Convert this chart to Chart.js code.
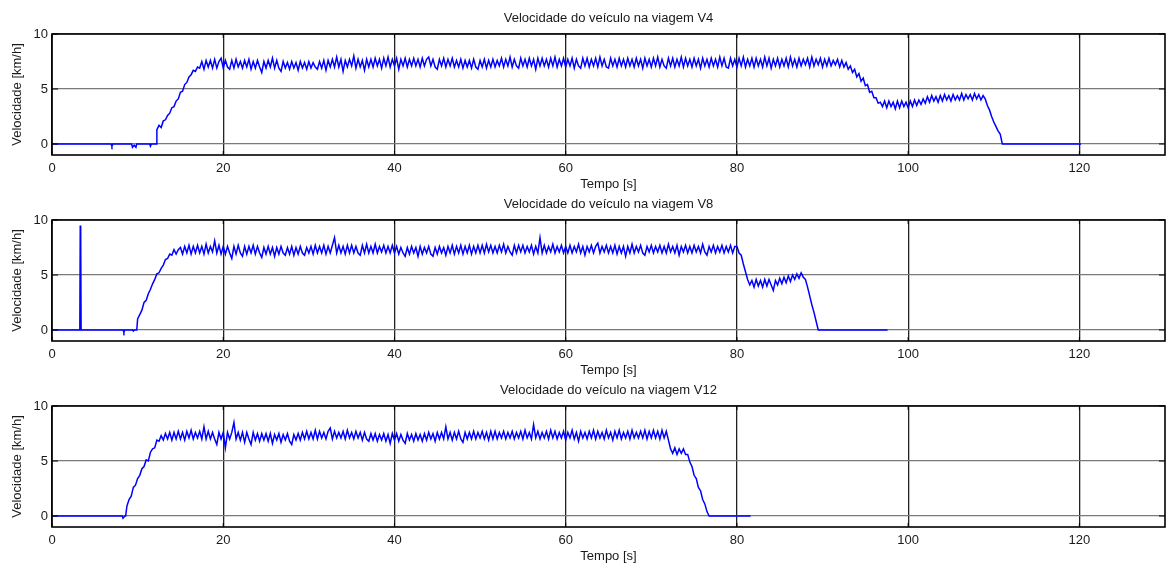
<!DOCTYPE html>
<html lang="pt">
<head>
<meta charset="utf-8">
<title>Velocidade do veículo</title>
<script src="https://cdn.jsdelivr.net/npm/chart.js@4.4.1/dist/chart.umd.min.js"></script>
<style>
  html, body { margin: 0; padding: 0; background: #fff; }
  #painel { position: relative; width: 1167px; height: 568px; overflow: hidden; }
  .grafico { position: absolute; left: 0; width: 1167px; height: 196px; }
</style>
</head>
<body>
<div id="painel">
  <div class="grafico" style="top:0px"><canvas id="graficoV4"></canvas></div>
  <div class="grafico" style="top:186px"><canvas id="graficoV8"></canvas></div>
  <div class="grafico" style="top:372px"><canvas id="graficoV12"></canvas></div>
</div>
<script>
// eixos
const temposTicks = [0, 20, 40, 60, 80, 100, 120];
const velTicks = [0, 5, 10];
const passo = 0.25; // intervalo de amostragem [s]

// viagem V4: trechos parados como pares [t, v], trecho em movimento amostrado a cada passo
const v4Parado = [[0, 0], [6.9, 0], [7.0, -0.2], [7.1, 0], [9.3, 0], [9.4, -0.3], [9.6, -0.1], [9.8, -0.3], [9.9, 0], [11.4, 0], [11.5, -0.2], [11.6, 0], [12.2, 0]];
const v4Inicio = 12.25;
const v4Vel = [
  1.3,1.7,1.5,2.1,2.2,2.6,2.8,3.3,3.4,3.9,4.1,4.7,4.8,5.4,5.6,6.1,6.3,6.7,6.6,7.0,
  6.9,7.5,6.8,7.6,7.0,7.6,6.9,7.7,6.9,7.5,7.8,6.9,7.6,7.0,6.8,7.6,6.9,7.7,7.0,7.5,
  6.9,7.6,7.0,7.7,6.8,7.5,6.9,7.6,7.0,6.5,7.5,6.9,7.6,7.0,7.8,6.9,7.6,6.9,6.6,7.5,
  6.9,7.4,6.8,7.5,6.9,7.4,6.7,7.5,6.9,7.4,6.8,7.5,6.9,7.4,7.0,6.8,7.5,6.9,7.6,6.7,
  7.6,7.0,7.7,7.0,7.9,7.0,7.7,6.6,7.6,7.0,7.7,7.1,8.0,6.9,7.7,7.0,7.6,6.7,7.7,7.0,
  7.7,7.0,7.8,7.1,7.7,6.9,7.8,7.1,7.9,7.0,7.7,7.1,7.8,6.8,7.7,7.1,7.8,7.0,7.7,7.1,
  7.8,7.1,7.7,7.0,7.8,7.1,7.7,7.9,7.1,7.7,7.0,6.8,7.7,7.1,7.8,7.0,7.7,7.1,7.8,7.0,
  7.6,7.0,7.7,6.9,7.6,7.0,7.6,6.9,7.7,7.0,6.8,7.6,7.0,7.7,6.9,7.6,7.0,7.7,7.0,7.6,
  7.1,7.8,7.0,7.7,7.1,7.9,7.0,7.7,7.1,6.9,7.8,7.1,7.7,7.0,7.8,7.1,7.7,6.8,7.8,7.1,
  7.8,7.1,7.7,7.0,7.8,7.1,7.9,7.0,7.7,7.1,7.8,7.0,7.7,7.1,7.8,6.9,7.7,7.1,6.9,7.8,
  7.1,7.8,7.0,7.7,7.1,7.8,7.0,7.9,7.1,7.7,7.0,6.9,7.8,7.1,7.7,7.0,7.8,7.1,7.7,7.0,
  7.8,7.1,7.7,7.0,7.8,7.1,7.7,6.9,7.8,7.1,7.7,7.0,7.8,7.1,7.9,7.0,7.7,7.1,6.9,7.8,
  7.1,7.8,7.0,7.7,7.1,7.9,7.0,7.8,7.1,7.7,7.0,7.8,7.1,7.7,6.9,7.8,7.1,7.7,7.0,7.8,
  7.1,7.7,7.0,7.9,7.1,7.8,7.0,6.9,7.8,7.1,7.7,7.0,7.8,7.1,7.9,7.0,7.7,7.1,7.8,7.0,
  7.8,7.1,7.7,7.0,7.9,7.1,7.8,6.9,7.7,7.1,7.8,7.0,7.7,7.1,7.8,7.0,7.9,7.1,7.7,7.0,
  7.8,7.1,7.7,7.2,7.8,7.0,7.9,7.1,7.7,7.2,7.8,7.0,7.7,7.1,7.8,7.1,7.6,7.2,7.7,7.0,
  7.6,7.0,7.4,6.8,7.1,6.5,6.8,6.1,6.4,5.7,6.0,5.3,5.4,4.7,4.8,4.2,4.2,3.7,3.8,3.4,
  3.9,3.3,3.9,3.4,3.8,3.2,3.9,3.3,3.9,3.4,3.8,3.3,3.9,3.4,4.0,3.5,4.0,3.6,4.1,3.7,
  4.3,3.8,4.4,3.9,4.3,3.8,4.4,3.9,4.5,4.0,4.4,3.9,4.5,4.0,4.4,4.0,4.6,4.0,4.5,4.1,
  4.5,4.0,4.6,4.1,4.5,4.0,4.4,4.1,3.5,3.1,2.5,2.0,1.6,1.2,0.9,0.0
];
const v4Final = [[120.2, 0]];

// viagem V8
const v8Parado = [[0, 0], [3.25, 0], [3.3, 9.5], [3.35, 9.2], [3.4, 0], [8.3, 0], [8.4, -0.2], [8.5, 0], [9.4, 0], [9.5, -0.1], [9.6, 0], [9.9, 0]];
const v8Inicio = 10.0;
const v8Vel = [
  1.0,1.4,1.8,2.5,2.7,3.3,3.7,4.2,4.6,5.1,5.2,5.6,5.9,6.4,6.5,6.9,6.8,7.3,6.9,7.3,
  7.5,6.9,7.6,7.0,7.7,6.9,7.6,7.0,7.7,7.0,7.6,6.9,7.8,7.0,7.6,7.1,8.1,7.0,7.7,6.9,
  7.6,6.9,7.6,7.0,6.5,7.6,6.9,7.7,7.0,6.7,7.6,6.9,7.6,7.0,7.7,6.9,7.6,7.0,6.6,7.5,
  6.9,7.6,6.9,7.5,6.7,7.5,6.9,7.6,7.0,6.8,7.5,6.9,7.6,6.8,7.5,6.9,7.6,7.0,6.8,7.5,
  7.0,7.6,6.9,7.7,7.0,7.6,7.0,7.7,6.9,7.6,7.0,7.7,8.4,7.0,7.7,7.0,7.6,6.9,7.7,7.0,
  7.7,7.0,7.6,7.0,6.8,7.7,7.0,7.8,7.0,7.6,7.0,7.8,7.0,7.6,7.1,7.7,7.0,7.6,7.0,7.7,
  7.0,7.6,6.9,7.5,7.0,6.7,7.5,6.9,7.6,7.0,7.5,6.7,7.6,6.9,7.5,7.0,7.6,6.9,6.7,7.5,
  6.9,7.6,7.0,7.5,6.8,7.6,7.0,7.7,6.9,7.6,7.0,7.7,6.9,7.6,7.0,7.7,6.9,7.6,7.0,7.7,
  7.0,7.7,7.0,7.8,7.1,7.7,7.0,7.6,7.0,7.7,7.1,7.8,7.0,7.6,7.1,6.8,7.7,7.0,7.7,7.1,
  7.7,7.0,7.6,7.1,7.7,6.9,7.6,7.0,8.4,7.0,7.7,7.0,7.6,7.1,7.8,7.0,7.6,7.1,7.7,7.0,
  7.6,7.0,7.7,7.0,7.6,7.1,7.8,7.0,7.6,6.8,7.6,7.1,7.7,7.0,7.6,7.9,7.0,7.6,7.1,7.7,
  7.0,7.6,7.0,7.7,6.9,7.6,7.0,7.6,6.7,7.6,7.0,7.8,7.0,7.6,7.1,7.7,7.0,6.8,7.6,7.1,
  7.7,7.0,7.6,7.1,7.7,7.0,7.6,7.0,7.8,7.1,7.6,7.0,7.7,6.8,7.6,7.1,7.7,7.0,7.6,7.0,
  7.7,7.1,7.6,7.0,7.8,7.1,6.8,7.6,7.1,7.7,7.0,7.6,7.1,7.7,7.0,7.6,7.1,7.7,7.0,7.6,
  7.6,7.0,6.8,6.0,5.3,4.6,4.1,4.5,3.9,4.6,4.0,4.5,3.9,4.6,4.0,4.6,4.1,3.6,4.5,4.1,
  4.7,4.2,4.8,4.3,4.9,4.4,5.0,4.6,5.1,4.7,5.2,4.8,4.6,3.9,3.1,2.3,1.6,0.8,0.0
];
const v8Final = [[97.6, 0]];

// viagem V12
const v12Parado = [[0, 0], [8.2, 0], [8.3, -0.2], [8.5, 0], [8.6, 0]];
const v12Inicio = 8.75;
const v12Vel = [
  0.9,1.5,1.8,2.6,2.8,3.4,3.7,4.3,4.5,5.1,5.0,5.8,6.1,6.2,6.9,6.8,7.3,6.9,7.5,7.0,
  7.6,6.9,7.6,7.0,7.7,7.0,7.6,6.9,7.7,7.1,7.8,7.0,7.6,7.1,7.7,7.0,8.1,7.0,7.7,7.0,
  7.6,7.0,6.5,7.6,7.0,7.6,6.2,7.6,7.0,7.6,8.5,7.0,7.6,6.9,7.6,6.7,7.6,7.0,6.5,7.6,
  6.9,7.5,6.8,7.5,6.9,7.5,6.8,7.5,6.6,7.4,6.9,7.5,6.7,7.4,6.9,7.5,6.8,6.5,7.4,6.9,
  7.5,6.9,7.6,7.0,7.7,7.0,7.6,7.0,7.8,7.0,7.7,7.1,7.6,7.0,7.7,8.0,7.0,7.7,7.1,7.6,
  7.1,7.7,7.0,7.8,7.1,7.6,7.0,7.7,7.1,7.6,6.9,7.6,7.0,6.8,7.5,6.9,7.5,6.8,7.4,6.9,
  7.5,6.8,7.4,6.6,7.5,6.9,7.5,6.8,7.4,6.9,6.6,7.5,6.9,7.4,6.8,7.5,6.9,7.4,6.8,7.5,
  6.9,7.6,7.0,7.5,6.8,7.6,7.0,7.6,7.0,8.1,7.0,7.6,6.9,7.6,7.0,7.7,7.0,6.7,7.6,7.0,
  7.6,7.0,7.7,7.0,7.6,7.1,7.7,7.0,7.6,6.9,7.7,7.0,7.7,7.0,7.6,7.1,7.7,7.0,7.6,7.1,
  7.7,7.0,7.6,7.1,7.7,7.0,7.8,7.1,7.6,7.0,8.3,7.1,7.7,7.0,7.6,7.1,7.7,7.0,7.8,7.1,
  7.7,7.0,7.6,7.1,7.7,6.9,7.6,7.1,7.8,7.0,7.6,6.8,7.7,7.1,7.6,7.0,7.7,7.1,7.8,7.0,
  7.7,7.1,7.6,7.0,7.8,7.1,7.6,6.9,7.7,7.1,7.8,7.0,7.6,7.1,7.7,7.0,7.8,7.1,7.6,7.1,
  7.7,7.1,7.8,7.0,7.7,7.1,7.8,7.1,7.7,7.0,7.8,7.1,7.7,6.9,6.1,5.7,6.2,5.6,6.1,5.7,
  6.1,5.6,5.6,4.9,4.5,3.7,3.4,2.6,2.3,1.5,1.1,0.4,0.0
];
const v12Final = [[81.6, 0]];

const fonte = { family: '"Liberation Sans", Arial, sans-serif', size: 13 };
const corTexto = '#1a1a1a';

function montarPontos(parado, inicio, vel, final) {
  const pts = parado.map(p => ({ x: p[0], y: p[1] }));
  vel.forEach((v, i) => pts.push({ x: inicio + i * passo, y: v }));
  final.forEach(p => pts.push({ x: p[0], y: p[1] }));
  return pts;
}

// moldura do eixo, marcas internas e título do subgráfico
const moldura = {
  id: 'moldura',
  afterDraw(chart, args, opts) {
    const { ctx, chartArea: a, scales: { x, y } } = chart;
    ctx.save();
    ctx.strokeStyle = '#000';
    ctx.lineWidth = 1;
    ctx.beginPath();
    temposTicks.forEach(t => {
      const px = x.getPixelForValue(t);
      ctx.moveTo(px, a.top); ctx.lineTo(px, a.top + 4);
      ctx.moveTo(px, a.bottom); ctx.lineTo(px, a.bottom - 4);
    });
    velTicks.forEach(v => {
      const py = y.getPixelForValue(v);
      ctx.moveTo(a.left, py); ctx.lineTo(a.left + 6, py);
      ctx.moveTo(a.right, py); ctx.lineTo(a.right - 6, py);
    });
    ctx.stroke();
    ctx.lineWidth = 1.6;
    ctx.strokeRect(a.left, a.top, a.right - a.left, a.bottom - a.top);
    ctx.fillStyle = corTexto;
    ctx.font = '13px "Liberation Sans", Arial, sans-serif';
    ctx.textAlign = 'center';
    ctx.textBaseline = 'middle';
    ctx.fillText(opts.texto, (a.left + a.right) / 2, a.top - 16);
    ctx.restore();
  }
};

function criarGrafico(id, titulo, pontos) {
  return new Chart(document.getElementById(id), {
    type: 'line',
    data: {
      datasets: [{
        data: pontos,
        borderColor: '#0000ff',
        borderWidth: 1.5,
        borderJoinStyle: 'miter',
        pointRadius: 0,
        tension: 0,
        fill: false
      }]
    },
    options: {
      responsive: true,
      maintainAspectRatio: false,
      animation: false,
      events: [],
      layout: { padding: { top: 34, right: 2, left: 0, bottom: 0 } },
      plugins: {
        legend: { display: false },
        tooltip: { enabled: false },
        moldura: { texto: titulo }
      },
      scales: {
        x: {
          type: 'linear',
          min: 0,
          max: 130,
          afterBuildTicks: s => { s.ticks = temposTicks.map(v => ({ value: v })); },
          afterFit: s => { s.height = 41; },
          border: { display: false },
          grid: { color: '#222', lineWidth: 1.3, drawTicks: false },
          ticks: { padding: 6, color: corTexto, font: fonte, maxRotation: 0, autoSkip: false },
          title: { display: true, text: 'Tempo [s]', color: corTexto, font: fonte, padding: { top: 0, bottom: 4 } }
        },
        y: {
          min: -1,
          max: 10,
          afterBuildTicks: s => { s.ticks = velTicks.map(v => ({ value: v })); },
          afterFit: s => { s.width = 52; },
          border: { display: false },
          grid: { color: '#7a7a7a', lineWidth: 1.3, drawTicks: false },
          ticks: { padding: 4, color: corTexto, font: fonte },
          title: { display: true, text: 'Velocidade [km/h]', color: corTexto, font: fonte, padding: { top: 10, bottom: 0 } }
        }
      }
    },
    plugins: [moldura]
  });
}

criarGrafico('graficoV4', 'Velocidade do veículo na viagem V4', montarPontos(v4Parado, v4Inicio, v4Vel, v4Final));
criarGrafico('graficoV8', 'Velocidade do veículo na viagem V8', montarPontos(v8Parado, v8Inicio, v8Vel, v8Final));
criarGrafico('graficoV12', 'Velocidade do veículo na viagem V12', montarPontos(v12Parado, v12Inicio, v12Vel, v12Final));
</script>
</body>
</html>
